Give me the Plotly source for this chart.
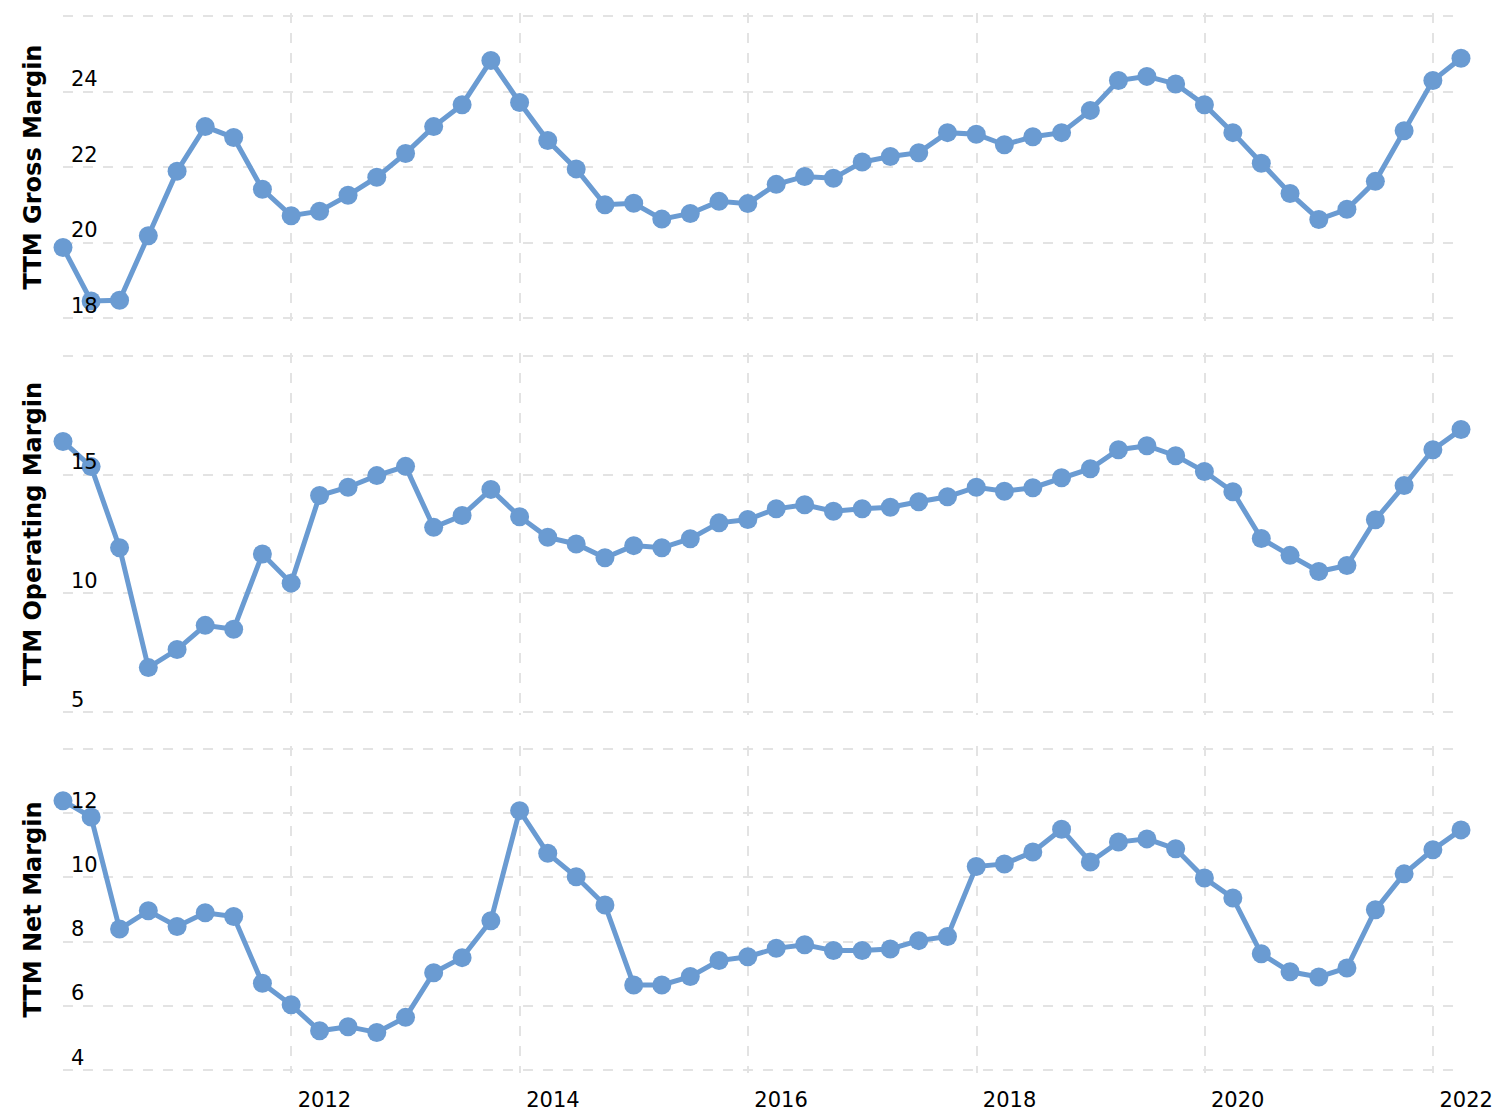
import plotly.graph_objects as go
import pandas as pd

# Quarter-end dates, 2009-12-31 .. 2022-03-31
dates = pd.date_range("2009-12-31", "2022-03-31", freq="QE").strftime("%Y-%m-%d").tolist()

gross_margin = [
    19.87, 18.45, 18.47, 20.18, 21.89, 23.07, 22.78, 21.41, 20.71, 20.83,
    21.25, 21.73, 22.36, 23.07, 23.65, 24.82, 23.71, 22.70, 21.95, 21.00,
    21.04, 20.62, 20.77, 21.09, 21.03, 21.54, 21.75, 21.70, 22.13, 22.28,
    22.38, 22.91, 22.87, 22.59, 22.80, 22.91, 23.50, 24.29, 24.40, 24.20,
    23.65, 22.91, 22.10, 21.30, 20.61, 20.88, 21.62, 22.96, 24.29, 24.88,
]

operating_margin = [
    16.40, 15.34, 11.92, 6.87, 7.63, 8.65, 8.49, 11.66, 10.43, 14.12,
    14.47, 14.96, 15.35, 12.78, 13.28, 14.38, 13.23, 12.36, 12.08, 11.50,
    12.01, 11.92, 12.30, 12.97, 13.11, 13.56, 13.73, 13.46, 13.56, 13.63,
    13.86, 14.07, 14.47, 14.30, 14.45, 14.87, 15.25, 16.05, 16.22, 15.80,
    15.13, 14.28, 12.31, 11.60, 10.92, 11.17, 13.10, 14.54, 16.05, 16.90,
]

net_margin = [
    12.39, 11.88, 8.39, 8.96, 8.47, 8.90, 8.78, 6.70, 6.03, 5.22,
    5.35, 5.17, 5.64, 7.03, 7.50, 8.65, 12.08, 10.75, 10.02, 9.14,
    6.65, 6.65, 6.91, 7.41, 7.53, 7.79, 7.90, 7.72, 7.72, 7.77,
    8.03, 8.16, 10.34, 10.42, 10.79, 11.50, 10.48, 11.10, 11.20, 10.89,
    9.98, 9.36, 7.62, 7.06, 6.90, 7.18, 8.99, 10.11, 10.86, 11.48,
]

x_tickvals = ["2012-01-01", "2014-01-01", "2016-01-01", "2018-01-01", "2020-01-01", "2022-01-01"]
x_ticktext = ["2012", "2014", "2016", "2018", "2020", "2022"]

gross_ticks = [18, 20, 22, 24, 26]
oper_ticks = [5, 10, 15, 20]
net_ticks = [4, 6, 8, 10, 12, 14]

titles = ["TTM Gross Margin", "TTM Operating Margin", "TTM Net Margin"]

COLOR = "#6a9bd2"
GRID = "#e3e3e3"
FONT = "DejaVu Sans, Verdana, sans-serif"

W, H = 1510, 1118
# panel pixel extents (top, bottom) for the tick range of each panel
panel_px = [(16, 318), (356, 712), (749, 1070)]
PAD = 3  # px of padding so edge gridlines are drawn
ticks = [gross_ticks, oper_ticks, net_ticks]

top_px = panel_px[0][0] - PAD
bot_px = panel_px[-1][1] + PAD
plot_h = bot_px - top_px

domains, ranges = [], []
for (t, b), tv in zip(panel_px, ticks):
    lo, hi = min(tv), max(tv)
    upp = (hi - lo) / (b - t)
    ranges.append([lo - PAD * upp, hi + PAD * upp])
    domains.append([(bot_px - (b + PAD)) / plot_h, (bot_px - (t - PAD)) / plot_h])

fig = go.Figure()
series = [gross_margin, operating_margin, net_margin]
for k, vals in enumerate(series):
    fig.add_trace(go.Scatter(
        x=dates, y=vals, mode="lines+markers",
        line=dict(color=COLOR, width=5),
        marker=dict(color=COLOR, size=19),
        cliponaxis=False, showlegend=False,
        xaxis="x" if k == 0 else f"x{k+1}",
        yaxis="y" if k == 0 else f"y{k+1}",
    ))

xcommon = dict(
    range=[dates[0], dates[-1]],
    tickvals=x_tickvals, ticktext=x_ticktext,
    showgrid=True, gridcolor=GRID, gridwidth=2, griddash="10px,10px",
    zeroline=False, showline=False, ticks="", automargin=False,
    tickfont=dict(family=FONT, size=21, color="#000"),
)

ycommon = dict(
    showgrid=True, gridcolor=GRID, gridwidth=2, griddash="10px,10px",
    zeroline=False, showline=False, ticks="", automargin=False,
    ticklabelposition="inside top",
    ticklabelstandoff=5, ticklabelshift=2,
    tickfont=dict(family=FONT, size=21, color="#000"),
)


def tt(vals):
    return [str(v) for v in vals[:-1]] + [""]


layout = dict(
    width=W, height=H,
    margin=dict(l=63, r=49, t=top_px, b=H - bot_px, pad=0, autoexpand=False),
    paper_bgcolor="white", plot_bgcolor="white",
    font=dict(family=FONT, color="#000"),
)

for k in range(3):
    xa = "xaxis" if k == 0 else f"xaxis{k+1}"
    ya = "yaxis" if k == 0 else f"yaxis{k+1}"
    xd = dict(xcommon)
    xd["anchor"] = "y" if k == 0 else f"y{k+1}"
    if k > 0:
        xd["matches"] = "x"
    xd["showticklabels"] = (k == 2)
    if k == 2:
        xd["ticklabelshift"] = 33
        xd["ticklabelstandoff"] = 12
    layout[xa] = xd
    yd = dict(ycommon)
    yd["domain"] = domains[k]
    yd["range"] = ranges[k]
    yd["tickvals"] = ticks[k]
    yd["ticktext"] = tt(ticks[k])
    yd["anchor"] = "x" if k == 0 else f"x{k+1}"
    yd["title"] = dict(text=titles[k], standoff=22,
                       font=dict(family=FONT, size=24, weight="bold", color="#000"))
    layout[ya] = yd

fig.update_layout(**layout)
fig.write_html("out.html")
